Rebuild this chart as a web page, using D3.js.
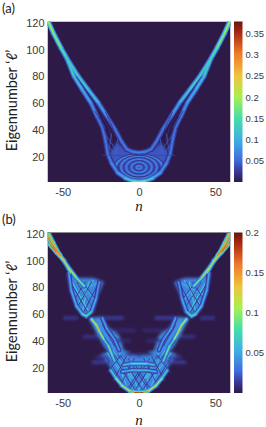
<!DOCTYPE html>
<html>
<head>
<meta charset="utf-8">
<script src="https://cdn.jsdelivr.net/npm/d3@7"></script>
<style>
  html, body { margin: 0; padding: 0; background: #fff; }
  svg { display: block; }
  .tick text { fill: #3a3a3a; }
</style>
</head>
<body>
<svg id="chart" width="266" height="427"></svg>
<script>
let nTicks = [-50, 0, 50];
let lTicks = [20, 40, 60, 80, 100, 120];
let barTicksA = [0.05, 0.1, 0.15, 0.2, 0.25, 0.3, 0.35];
let barTicksB = [0.05, 0.1, 0.15, 0.2];
let barMaxA = 0.378, barMaxB = 0.2;

// colour bar read at its ticks, as a share of the bar height
let barPos = [0, 0.07, 0.14, 0.27, 0.4, 0.53, 0.66, 0.8, 0.93, 1];
let barColors = ['#2e1a47', '#3a3a9c', '#3f6fe0', '#3fb2e2', '#45dfa8', '#a8f04e', '#f0c53e', '#ee7a2c', '#a92a12', '#6a1410'];

// panel (a), left half: the other half is the same picture mirrored. [n, l, value]
let bandA = [
  [[-59.5, 121, 0.2], [-56, 112, 0.19], [-51, 101, 0.17], [-47.5, 94, 0.14]],
  [[-47.5, 94, 0.14], [-39.8, 80, 0.13], [-33.2, 70, 0.13], [-26.5, 60, 0.1], [-21, 50, 0.075], [-15.5, 40, 0.06], [-11.5, 31.5, 0.06], [-8, 25.5, 0.06], [-4, 23.5, 0.065], [0, 23, 0.07]],
  [[-47.5, 94, 0.14], [-42.6, 80, 0.12], [-37.2, 70, 0.1], [-31.5, 60, 0.085], [-27.5, 50, 0.07], [-24, 42, 0.06], [-22, 32, 0.058], [-20.5, 22, 0.06], [-18, 15, 0.07], [-14, 8, 0.08], [-9, 4, 0.1], [-4, 1.6, 0.15], [0, 1, 0.2]]
];
let darkA = [
  [[-41, 80, 0.04], [-38, 75, 0.012], [-35, 70, 0.004], [-29, 60, 0.006], [-24, 50, 0.012], [-19.5, 40, 0.018], [-17.5, 31, 0.018]],
  [[-29, 54, 0.02], [-24.5, 45, 0.02], [-21, 36, 0.02]],
  [[-22, 53, 0.02], [-18, 44, 0.02], [-15, 35, 0.02]]
];
let hatchA = [
  [[-23, 38, 0.045], [-13, 22, 0.045]],
  [[-21.5, 30, 0.045], [-13, 18, 0.045]],
  [[-18, 37, 0.045], [-20, 22, 0.045]],
  [[-14, 33, 0.045], [-16, 19, 0.045]],
  [[-23.5, 21, 0.03], [-9, 21, 0.03]]
];
// [n radius, l radius, value], all around the centre n = 0, l = ringMidA
let ringMidA = 12;
let ringsA = [[1.6, 1.3, 0.06], [5, 3.8, 0.06], [8.4, 6.2, 0.06], [11.8, 8.3, 0.06], [15.2, 9.7, 0.065]];
let ringGapsA = [[3.3, 2.6, 0.014], [6.7, 5, 0.014], [10.1, 7.3, 0.014], [13.5, 9, 0.014], [16.8, 10.2, 0.016]];
let fillA = [[-20, 22], [-17, 15], [-12, 8], [-6, 3], [0, 1.5], [0, 23], [-9, 25], [-14, 31]];

// panel (b), left half, also mirrored
let bandB = [
  [[-59.5, 121, 0.14], [-56, 113, 0.15], [-52, 104, 0.14], [-47, 96, 0.12], [-41, 87, 0.11], [-36, 81, 0.07]],
  [[-58.5, 112, 0.15], [-54, 106, 0.18], [-49, 100, 0.1], [-45, 91, 0.09]],
  [[-60, 118, 0.17], [-56, 110, 0.16], [-51.5, 104, 0.17]],
  [[-46, 91, 0.05], [-44.5, 78, 0.05], [-41, 66, 0.06], [-37, 60, 0.07], [-34.5, 58.5, 0.1], [-31, 62, 0.06], [-28, 72, 0.05], [-26, 84, 0.04]],
  [[-31, 56, 0.08], [-28, 52, 0.15], [-25.5, 46, 0.13], [-23, 41, 0.08], [-20, 36, 0.07], [-17.5, 29, 0.11], [-16, 25, 0.045]],
  [[-24, 57, 0.05], [-21, 49, 0.05], [-16, 41, 0.05], [-13, 33, 0.045]],
  [[-18.5, 18, 0.06], [-15, 12, 0.09], [-11, 6.5, 0.11], [-6, 2.5, 0.12], [-2.5, 1.2, 0.19], [0, 1, 0.2]],
  [[-10, 22, 0.05], [-5, 23, 0.08], [0, 23, 0.08]],
  [[-11, 17, 0.045], [-5, 18, 0.065], [0, 18, 0.065]]
];
let hatchB = [
  [[-46, 88, 0.065], [-33, 62, 0.07]], [[-42, 86, 0.065], [-30, 64, 0.06]], [[-38, 85, 0.06], [-28, 68, 0.05]],
  [[-33, 84, 0.06], [-37, 62, 0.07]], [[-30, 85, 0.065], [-41, 66, 0.06]], [[-26, 84, 0.06], [-43, 74, 0.045]],
  [[-21, 31, 0.055], [-9, 12, 0.06]], [[-17, 33, 0.055], [-5, 12, 0.06]], [[-13, 31, 0.05], [-2, 8, 0.06]], [[-8, 29, 0.045], [0, 16, 0.05]],
  [[-19, 24, 0.055], [-13, 8, 0.06]], [[-15, 26, 0.055], [-8, 6, 0.06]], [[-10, 27, 0.05], [-4, 4, 0.06]], [[-6, 17, 0.05], [0, 3, 0.07]]
];
let darkB = [
  [[-45, 84, 0.012], [-34, 62, 0.012]], [[-41, 84, 0.012], [-31, 66, 0.012]], [[-37, 84, 0.012], [-28, 70, 0.012]],
  [[-31, 84, 0.012], [-40, 66, 0.012]], [[-35, 84, 0.012], [-43, 70, 0.012]], [[-28, 80, 0.012], [-36, 62, 0.012]],
  [[-21, 27, 0.012], [-8, 4, 0.012]], [[-17, 29, 0.012], [-3, 4, 0.012]], [[-12, 29, 0.012], [2, 4, 0.012]], [[-7, 27, 0.012], [6, 4, 0.012]],
  [[-21, 16, 0.012], [-12, 29, 0.012]], [[-17, 10, 0.012], [-8, 29, 0.012]], [[-13, 5, 0.012], [-3, 27, 0.012]], [[-8, 3, 0.012], [2, 21, 0.012]],
  [[-28, 50, 0.012], [-19, 33, 0.012]], [[-24, 52, 0.012], [-16, 36, 0.012]]
];
let fillB = [
  { v: 0.036, pts: [[-47, 90], [-44, 75], [-40, 63], [-35, 58], [-30, 62], [-27, 74], [-23, 84], [-30, 87], [-40, 87]] },
  { v: 0.04, pts: [[-33, 57], [-25, 58], [-20, 50], [-13, 44], [-10, 33], [-13, 28], [-22, 34], [-27, 44]] },
  { v: 0.036, pts: [[-25, 30], [-17, 17], [-11, 7], [-5, 2], [0, 2], [0, 28], [-7, 32], [-14, 34]] }
];
// faint side streaks: [from n, to n, l, value]
let streaksB = [
  [-49, -41, 57, 0.014], [-24, -11, 57, 0.016], [-36, -28, 43, 0.012], [-17, -3, 48, 0.007],
  [-14, -6, 40, 0.008], [-27, -12, 28, 0.014], [-30, -18, 24, 0.016], [-8, 0, 30, 0.008]
];

let x = d3.scaleLinear().domain([-60, 60]).range([47.5, 230.5]);
let lScale = top => d3.scaleLinear().domain([1, 121]).range([top + 160.5, top]);

// the stops hold colours on a 0-1 share of the bar, each panel scales to its own maximum
function makeColor(max) {
  return d3.scaleLinear().domain(barPos.map(p => p * max)).range(barColors).clamp(true);
}

let svg = d3.select('#chart');
let defs = svg.append('defs');
[['soft', 0.55], ['softer', 1.5]].forEach(f => {
  defs.append('filter').attr('id', f[0])
    .attr('x', '-5%').attr('y', '-5%').attr('width', '110%').attr('height', '110%')
    .append('feGaussianBlur').attr('stdDeviation', f[1]);
});

let layerA = [
  { width: 5.2, share: 0.32 },
  { width: 3.4, share: 0.62 },
  { width: 1.6, share: 1 }
];
let layerB = [
  { width: 4.6, share: 0.28 },
  { width: 2.6, share: 0.55 },
  { width: 1.1, share: 1 }
];

function mirrored(pts) {
  return pts.map(d => [-d[0]].concat(d.slice(1)));
}

function drawSegments(g, y, color, line, width, share) {
  for (let i = 1; i < line.length; i++) {
    let a = line[i - 1], b = line[i];
    g.append('line')
      .attr('x1', x(a[0])).attr('y1', y(a[1]))
      .attr('x2', x(b[0])).attr('y2', y(b[1]))
      .attr('stroke', color((a[2] + b[2]) / 2 * share))
      .attr('stroke-width', width)
      .attr('stroke-linecap', 'round');
  }
}

function drawBands(g, y, color, bands, layers) {
  layers.forEach(s => {
    bands.forEach(b => {
      drawSegments(g, y, color, b, s.width, s.share);
      drawSegments(g, y, color, mirrored(b), s.width, s.share);
    });
  });
}

function drawThin(g, y, color, lines, width) {
  lines.forEach(b => {
    drawSegments(g, y, color, b, width, 1);
    drawSegments(g, y, color, mirrored(b), width, 1);
  });
}

function drawFill(g, y, color, pts, v) {
  let path = d3.line().x(d => x(d[0])).y(d => y(d[1]));
  [pts, mirrored(pts)].forEach(p => {
    g.append('path').attr('d', path(p) + 'Z').attr('fill', color(v));
  });
}

function drawRings(g, y, color, rings, mid, width) {
  rings.forEach(r => {
    g.append('ellipse')
      .attr('cx', x(0)).attr('cy', y(mid))
      .attr('rx', x(r[0]) - x(0))
      .attr('ry', y(mid - r[1]) - y(mid))
      .attr('fill', 'none')
      .attr('stroke', color(r[2]))
      .attr('stroke-width', width);
  });
}

function drawFrame(top, clipId, color, barTicks, barMax, label, labelY, nY) {
  let y = lScale(top);
  let h = 160.5;
  defs.append('clipPath').attr('id', clipId)
    .append('rect').attr('x', 47.5).attr('y', top).attr('width', 183).attr('height', h);

  let plot = svg.append('g').attr('clip-path', `url(#${clipId})`);
  plot.append('rect').attr('x', 47.5).attr('y', top).attr('width', 183).attr('height', h).attr('fill', barColors[0]);
  let wide = plot.append('g').attr('filter', 'url(#softer)');
  let soft = plot.append('g').attr('filter', 'url(#soft)');

  let yAxis = d3.axisLeft(y).tickValues(lTicks).tickSize(0).tickPadding(3);
  svg.append('g').attr('transform', 'translate(47.5,0)').call(yAxis)
    .call(g => g.select('.domain').remove())
    .selectAll('text').attr('font-family', 'Liberation Sans').attr('font-size', 11);

  let xAxis = d3.axisBottom(x).tickValues(nTicks).tickSize(0).tickPadding(6).tickFormat(d => d);
  svg.append('g').attr('transform', `translate(0,${top + h})`).call(xAxis)
    .call(g => g.select('.domain').remove())
    .selectAll('text').attr('font-family', 'Liberation Sans').attr('font-size', 11);

  // colour bar
  let barY = d3.scaleLinear().domain([0, barMax]).range([top + h, top]);
  let grad = defs.append('linearGradient').attr('id', clipId + '-bar')
    .attr('x1', 0).attr('y1', 1).attr('x2', 0).attr('y2', 0);
  barPos.forEach((p, i) => {
    grad.append('stop').attr('offset', p).attr('stop-color', barColors[i]);
  });
  svg.append('rect').attr('x', 234).attr('y', top).attr('width', 8.5).attr('height', h)
    .attr('fill', `url(#${clipId}-bar)`);
  let barAxis = d3.axisRight(barY).tickValues(barTicks).tickSize(0).tickPadding(3).tickFormat(d => d);
  svg.append('g').attr('transform', 'translate(242.5,0)').call(barAxis)
    .call(g => g.select('.domain').remove())
    .selectAll('text').attr('font-family', 'Liberation Sans').attr('font-size', 9.5);

  // axis titles
  svg.append('text')
    .attr('transform', `translate(16.5,${top + 79}) rotate(-90)`)
    .attr('text-anchor', 'middle')
    .attr('font-family', 'Lato').attr('font-size', 14.5).attr('fill', '#222')
    .text('Eigennumber ‘ℓ’');
  svg.append('text')
    .attr('x', 139).attr('y', nY)
    .attr('text-anchor', 'middle')
    .attr('font-family', 'Liberation Serif').attr('font-style', 'italic')
    .attr('font-size', 15).attr('fill', '#222')
    .text('n');
  svg.append('text')
    .attr('x', 2).attr('y', labelY)
    .attr('font-family', 'Lato').attr('font-size', 13).attr('fill', '#222')
    .text(label);

  return { wide, soft, y };
}

// panel (a)
let colorA = makeColor(barMaxA);
let a = drawFrame(21.5, 'clip-a', colorA, barTicksA, barMaxA, '(a)', 13, 211);
drawFill(a.wide, a.y, colorA, fillA, 0.04);
drawRings(a.soft, a.y, colorA, ringsA, ringMidA, 1.8);
drawRings(a.soft, a.y, colorA, ringGapsA, ringMidA, 0.8);
drawBands(a.soft, a.y, colorA, bandA, layerA);
drawThin(a.soft, a.y, colorA, darkA, 0.8);
drawThin(a.soft, a.y, colorA, hatchA, 0.8);

// panel (b)
let colorB = makeColor(barMaxB);
let b = drawFrame(232.5, 'clip-b', colorB, barTicksB, barMaxB, '(b)', 224, 425);
fillB.forEach(f => drawFill(b.wide, b.y, colorB, f.pts, f.v));
streaksB.forEach(s => {
  drawThin(b.wide, b.y, colorB, [[[s[0], s[2], s[3]], [s[1], s[2], s[3]]]], 3);
});
drawThin(b.soft, b.y, colorB, hatchB, 1.1);
drawThin(b.soft, b.y, colorB, darkB, 0.9);
drawBands(b.soft, b.y, colorB, bandB, layerB);
svg.append('line').attr('x1', 47.5).attr('x2', 230.5).attr('y1', 232.5).attr('y2', 232.5)
  .attr('stroke', '#8a8a8a').attr('stroke-width', 1);
</script>
</body>
</html>
